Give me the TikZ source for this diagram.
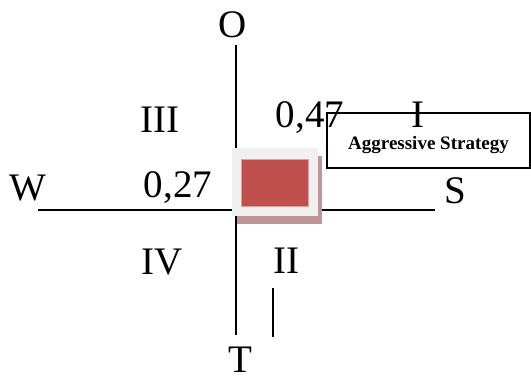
\documentclass[tikz,border=0pt]{standalone}
\usepackage{fontspec}
\setmainfont{Liberation Serif}
\usetikzlibrary{positioning}

\begin{document}
\begin{tikzpicture}[x=0.5pt,y=-0.5pt,
    lbl/.style={font=\fontsize{19.5}{22}\selectfont, inner sep=0pt},
    axis/.style={line width=1pt, black}]
  \useasboundingbox (0,0) rectangle (531,379);
  % axes
  \coordinate (top) at (236,45);
  \coordinate (bot) at (236,335);
  \coordinate (lft) at (38,210);
  \coordinate (rgt) at (435,210);
  \draw[axis] (top) -- (bot);
  \draw[axis] (lft) -- (rgt);
  % axis labels
  \node[lbl] (O) at (233,25) {O};
  \node[lbl] (T) at (240,360) {T};
  \node[lbl] (W) at (28,188) {W};
  \node[lbl] (S) at (455,191) {S};
  % position marker
  \fill[fill={rgb,255:red,190;green,150;blue,150}] (237,156) rectangle (322,224);
  \fill[fill={rgb,255:red,240;green,240;blue,240}] (232,148) rectangle (318,216);
  \node[fill={rgb,255:red,192;green,80;blue,77}, draw={rgb,255:red,225;green,160;blue,158},
    minimum width=33.5pt, minimum height=23.5pt, inner sep=0pt] (pos) at (274.5,182.5) {};
  % strategy box
  \node[draw, line width=1pt, fill=white, minimum width=101.5pt, minimum height=27.5pt,
    inner sep=0pt, font=\bfseries\fontsize{9.5}{11}\selectfont] (agg) at (428.5,140.5)
    {\raisebox{-4.5pt}[0pt][0pt]{Aggressive Strategy}};
  % quadrants
  \node[lbl] (q3) at (160,120) {III};
  \node[lbl] (q1) at (418,115) {I};
  \node[lbl] (q4) at (162,262) {IV};
  \node[lbl] (q2) at (286,261) {II};
  % values
  \node[lbl] (vo) at (310,118) {0,47};
  \node[lbl] (vw) at (178,188) {0,27};
  % tick below II
  \coordinate (tk1) at (273,288);
  \coordinate (tk2) at (273,337);
  \draw[axis] (tk1) -- (tk2);
\end{tikzpicture}
\end{document}
